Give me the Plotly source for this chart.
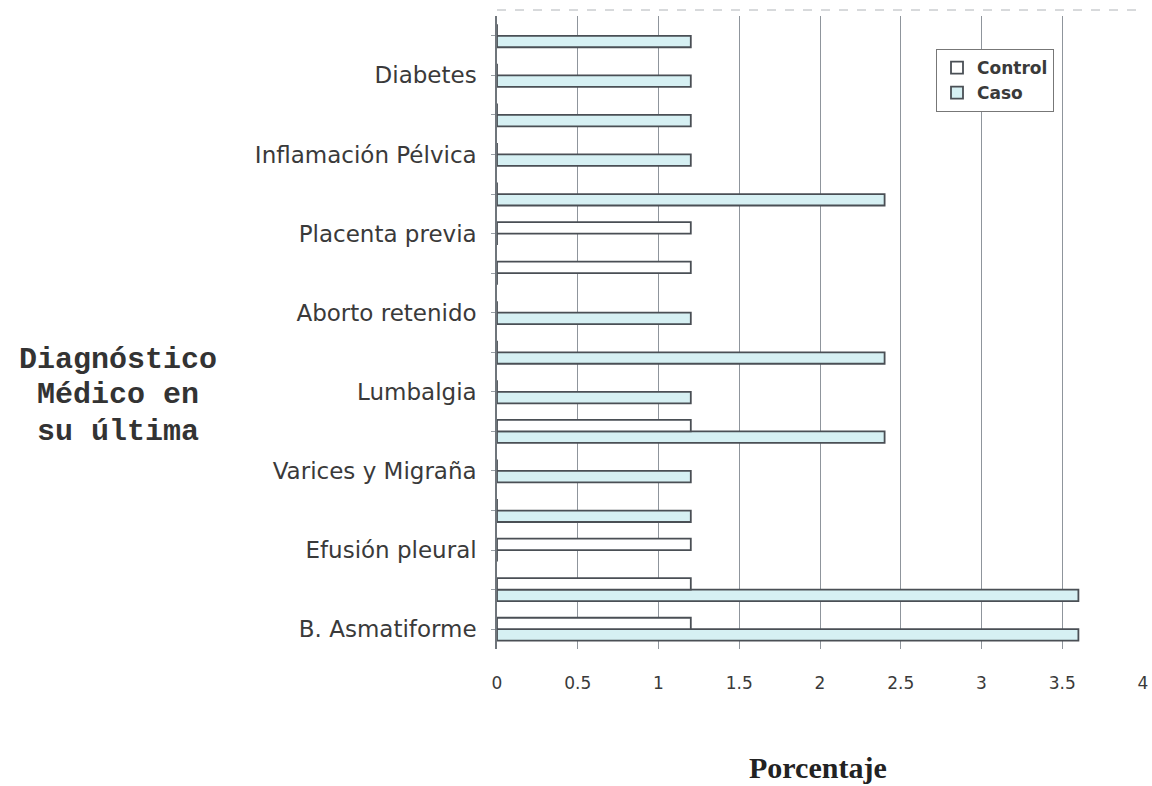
import plotly.graph_objects as go

# categories listed bottom -> top (only every other one carries a visible label)
labels = ["B. Asmatiforme", "", "Efusión pleural", "", "Varices y Migraña", "",
          "Lumbalgia", "", "Aborto retenido", "", "Placenta previa", "",
          "Inflamación Pélvica", "", "Diabetes", ""]
control = [1.2, 1.2, 1.2, 0, 0, 1.2, 0, 0, 0, 1.2, 1.2, 0, 0, 0, 0, 0]
caso    = [3.6, 3.6, 0, 1.2, 1.2, 2.4, 1.2, 2.4, 1.2, 0, 0, 2.4, 1.2, 1.2, 1.2, 1.2]
x_ticks = [0, 0.5, 1, 1.5, 2, 2.5, 3, 3.5, 4]
y_title_lines = ["Diagnóstico", "Médico en", "su última"]

pos = list(range(len(labels)))

# the page body margin is removed by a post script, so the figure fills the window
L, T, W, H = 497, 16, 646, 633
FW, FH = 1152, 786


def px(X):
    return (X - L) / W


def py(Y):
    return 1 - (Y - T) / H


fig = go.Figure()
fig.add_trace(go.Bar(
    y=pos, x=caso, orientation="h", name="Caso", legendrank=2,
    marker=dict(color="#d6f0f3", line=dict(color="#4a4f55", width=1.8)),
))
fig.add_trace(go.Bar(
    y=pos, x=control, orientation="h", name="Control", legendrank=1,
    marker=dict(color="#ffffff", line=dict(color="#4a4f55", width=1.8)),
))

fig.update_layout(
    width=FW, height=FH,
    barmode="group", bargap=0.42, bargroupgap=0.0,
    plot_bgcolor="white", paper_bgcolor="white",
    margin=dict(l=L, r=FW - L - W, t=T, b=FH - T - H, autoexpand=False),
    font=dict(family="DejaVu Sans, Arial", color="#3a3a3a"),
    xaxis=dict(
        range=[0, 4], tickvals=x_ticks, ticktext=[str(v) for v in x_ticks],
        showgrid=True, gridcolor="#8f959c", gridwidth=1,
        zeroline=False, showline=False,
        tickfont=dict(size=17, color="#3a3a3a"), ticks="",
        ticklabelstandoff=22, ticklabeloverflow="allow",
    ),
    yaxis=dict(
        range=[-0.5, len(labels) - 0.5],
        tickvals=pos, ticktext=labels,
        showgrid=False, zeroline=False,
        showline=True, linecolor="#6f757b", linewidth=1.5,
        ticks="outside", ticklen=4, tickcolor="#9aa0a6",
        tickfont=dict(size=23, color="#3a3a3a"),
        ticklabelstandoff=10,
    ),
    legend=dict(
        x=px(936), y=py(49), xanchor="left", yanchor="top",
        bgcolor="white", bordercolor="#777777", borderwidth=1,
        font=dict(size=17, color="#3a3a3a", family="DejaVu Sans", weight="bold"),
        itemwidth=30, tracegroupgap=0,
    ),
    showlegend=True,
)

# y-axis title (three centred lines)
for i, line in enumerate(y_title_lines):
    fig.add_annotation(
        text=line, xref="paper", yref="paper",
        x=px(118), y=py([360, 395, 432][i]),
        xanchor="center", yanchor="middle", showarrow=False,
        font=dict(family="Liberation Mono, Courier New", size=30, color="#333333", weight="bold"),
    )

fig.add_annotation(
    text="<b>Porcentaje</b>",
    xref="paper", yref="paper", x=px(818), y=py(768),
    xanchor="center", yanchor="middle", showarrow=False,
    font=dict(family="Liberation Serif, Times New Roman", size=30, color="#222222"),
)

# faint dashed top border seen in the original
fig.add_shape(type="line", xref="paper", yref="paper", x0=0, x1=1,
              y0=py(10), y1=py(10),
              line=dict(color="#b0b4b8", width=1, dash="dash"))

fig.write_html(
    "out.html",
    config={"displayModeBar": False},
    post_script="document.body.style.margin='0';document.body.style.overflow='hidden';",
)
